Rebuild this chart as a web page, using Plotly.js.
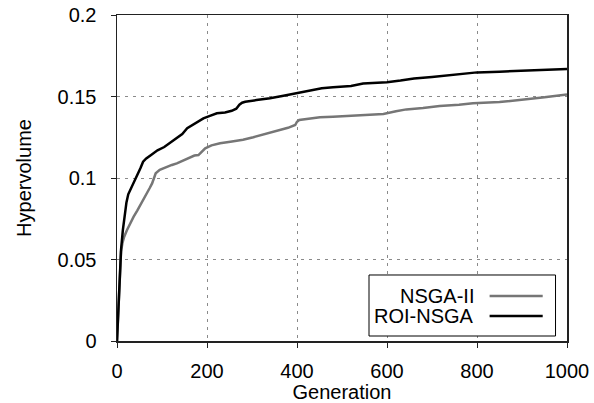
<!DOCTYPE html>
<html>
<head>
<meta charset="utf-8">
<script src="https://cdn.plot.ly/plotly-3.0.1.min.js"></script>
<style>html,body{margin:0;padding:0;background:#fff;}#chart{width:594px;height:403px;}</style>
</head>
<body>
<div id="chart"></div>
<script>
const seriesNames = ["NSGA-II", "ROI-NSGA"];

const nsgaGen = [0,3,6,9,12,16,22,30,37,45,52,60,67,73,78,82,86,95,111,122,133,150,163,172,181,190,196,210,229,252,280,303,330,359,380,396,400,405,430,451,480,518,560,592,620,643,680,717,760,791,850,902,950,1000];
const nsgaHV = [0,0.02,0.042,0.055,0.06,0.064,0.068,0.073,0.0763,0.08,0.0834,0.087,0.0906,0.094,0.0967,0.1,0.1029,0.105,0.107,0.108,0.109,0.111,0.113,0.1138,0.1141,0.1162,0.1182,0.12,0.1213,0.1223,0.1235,0.125,0.127,0.1294,0.1308,0.1325,0.1345,0.1356,0.1365,0.1372,0.1375,0.138,0.1385,0.1393,0.141,0.1421,0.143,0.1442,0.145,0.1458,0.1466,0.1479,0.1495,0.1513];

const roiGen = [0,3,6,9,13,17,21,25,30,35,40,46,52,58,65,75,90,105,120,133,145,156,165,172,182,192,205,222,240,255,265,272,278,285,310,340,370,400,430,455,480,520,547,575,600,630,660,700,750,800,850,900,950,1000];
const roiHV = [0,0.018,0.04,0.056,0.068,0.077,0.085,0.09,0.093,0.096,0.098,0.102,0.106,0.11,0.112,0.114,0.117,0.119,0.122,0.1243,0.127,0.1305,0.132,0.1335,0.135,0.1366,0.138,0.1397,0.1402,0.1412,0.1425,0.145,0.1462,0.1468,0.1478,0.1489,0.1505,0.152,0.1535,0.155,0.1556,0.1564,0.158,0.1583,0.1587,0.1598,0.1611,0.162,0.1632,0.1648,0.1652,0.1658,0.1663,0.1669];

const xTicks = [0,200,400,600,800,1000];
const yTicks = [0,0.05,0.1,0.15,0.2];
const yTickText = ["0","0.05","0.1","0.15","0.2"];

const colors = ["#767676", "#000000"];
const FONT = "Liberation Sans, Arial, Helvetica, sans-serif";
const FS = 20;

const traces = [
  {x: nsgaGen, y: nsgaHV, name: seriesNames[0], mode: "lines", line: {color: colors[0], width: 2.5}, showlegend: false},
  {x: roiGen, y: roiHV, name: seriesNames[1], mode: "lines", line: {color: colors[1], width: 2.5}, showlegend: false}
];

const axisCommon = {
  showline: true, mirror: true, linecolor: "#222", linewidth: 1.5,
  showgrid: true, gridcolor: "#8a8a8a", gridwidth: 1, griddash: "3px,5px",
  zeroline: false, ticks: "outside", ticklen: 5, tickcolor: "#222",
  tickfont: {family: FONT, size: FS, color: "#000"}
};

// legend drawn as annotations + shapes (text left of line, as in the reference)
const legY = [0.138, 0.0767];
const annotations = seriesNames.map((n, i) => ({
  xref: "paper", yref: "paper", x: 0.7987, y: legY[i], xanchor: "right", yanchor: "middle",
  text: n, showarrow: false, font: {family: FONT, size: FS, color: "#000"}
}));
const shapes = [
  {type: "rect", xref: "paper", yref: "paper", x0: 0.56, x1: 0.9745, y0: 0.0153, y1: 0.2025,
   line: {color: "#000", width: 1}, fillcolor: "#fff", layer: "above"}
].concat(seriesNames.map((n, i) => ({
  type: "line", xref: "paper", yref: "paper", x0: 0.828, x1: 0.946, y0: legY[i], y1: legY[i],
  line: {color: colors[i], width: 2.5}, layer: "above"
})));

const layout = {
  width: 594, height: 403,
  margin: {l: 116.5, r: 26.5, t: 15, b: 62},
  paper_bgcolor: "#fff", plot_bgcolor: "#fff",
  font: {family: FONT, size: FS, color: "#000"},
  showlegend: false,
  xaxis: Object.assign({}, axisCommon, {
    range: [0, 1000], tickvals: xTicks, ticktext: xTicks.map(String), ticklabelstandoff: 6,
    title: {text: "Generation", font: {family: FONT, size: FS, color: "#000"}, standoff: 4}
  }),
  yaxis: Object.assign({}, axisCommon, {
    range: [0, 0.2], tickvals: yTicks, ticktext: yTickText, ticklabelstandoff: 10,
    title: {text: "Hypervolume", font: {family: FONT, size: FS, color: "#000"}, standoff: 20}
  }),
  annotations: annotations,
  shapes: shapes
};

Plotly.newPlot("chart", traces, layout, {staticPlot: true, displayModeBar: false});
</script>
</body>
</html>
